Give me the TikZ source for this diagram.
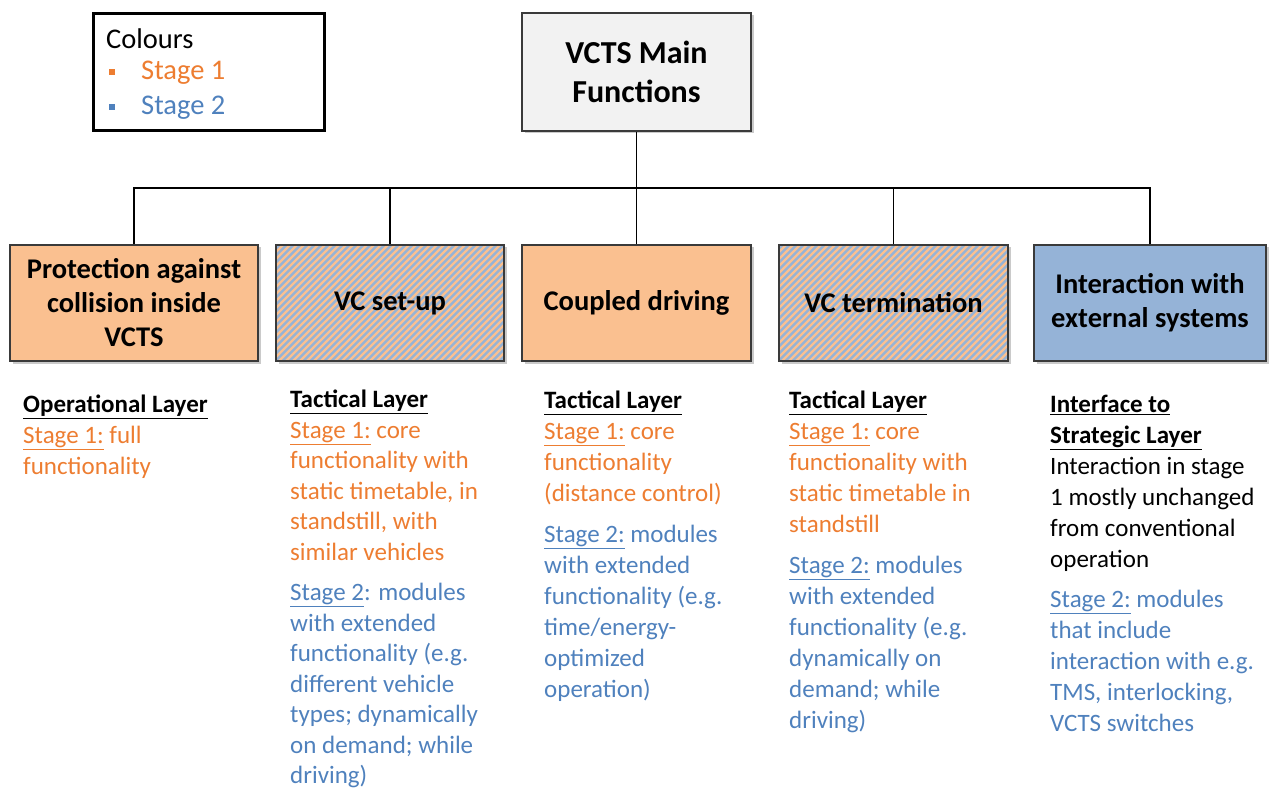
\documentclass[tikz,border=0pt]{standalone}
\usepackage{fontspec}
\setmainfont{Carlito}
\usetikzlibrary{shadows}
\definecolor{orT}{HTML}{ED7D31}
\definecolor{blT}{HTML}{4F81BD}
\definecolor{orF}{HTML}{FAC090}
\definecolor{blF}{HTML}{95B3D7}
\definecolor{grF}{HTML}{F2F2F2}
\definecolor{bdr}{HTML}{3A3A3A}
\tikzset{
  fbox/.style={draw=bdr, line width=1.3pt, minimum height=116pt, align=center,
    font=\fontsize{28.5}{34}\selectfont\bfseries, inner sep=2pt,
    drop shadow={shadow xshift=2.5pt, shadow yshift=-2.5pt, opacity=0.35, fill=black!60}},
  orbox/.style={fbox, fill=orF},
  blbox/.style={fbox, fill=blF},
  hatbox/.style={fbox, fill=blF, path picture={
      \foreach \i in {-130,-123,...,240}
        \draw[orF, line width=2.4pt] ([xshift=\i pt]path picture bounding box.south west) -- ++(130,-130);}},
  desc/.style={anchor=north west, inner sep=0pt, align=left, font=\fontsize{25}{31}\selectfont},
  legtxt/.style={anchor=west, inner sep=0pt, font=\fontsize{28.5}{34}\selectfont},
  conn/.style={draw=black, line width=1.2pt},
}
\begin{document}
\begin{tikzpicture}[x=1pt,y=-1pt]
\useasboundingbox (0,0) rectangle (1276,794);
% legend
\node[draw=black, line width=2.4pt, minimum width=231pt, minimum height=117pt] (leg) at (209,72) {};
\node[legtxt] (legt) at (106,39) {Colours};
\node[fill=orT, minimum size=6pt, inner sep=0pt] (sq1) at (112,72) {};
\node[legtxt, text=orT] (leg1) at (141,73) {Stage 1};
\node[fill=blT, minimum size=6pt, inner sep=0pt] (sq2) at (112,107) {};
\node[legtxt, text=blT] (leg2) at (141,108) {Stage 2};
% main
\node[fbox, fill=grF, minimum width=229pt, minimum height=118pt, font=\fontsize{32}{39.5}\selectfont\bfseries] (main) at (636.5,72) {VCTS Main\\Functions};
% boxes
\node[orbox, minimum width=248pt] (b1) at (134,303) {Protection against\\collision inside\\VCTS};
\node[hatbox, minimum width=228pt] (b2) at (390,303) {VC set-up};
\node[orbox, minimum width=229pt] (b3) at (636.5,303) {Coupled driving};
\node[hatbox, minimum width=229pt] (b4) at (893.5,303) {VC termination};
\node[blbox, minimum width=232pt] (b5) at (1150,303) {Interaction with\\external systems};
% connectors
\coordinate (j) at (636.5,188);
\draw[conn] (main.south) -- (j);
\draw[conn] (b1.north) |- (j);
\draw[conn] (b2.north) |- (j);
\draw[conn] (b3.north) -- (j);
\draw[conn] (b4.north) |- (j);
\draw[conn] (b5.north) |- (j);
% descriptions
\node[desc] (d1) at (23,395) {\textbf{\underline{Operational Layer}}\\
  \textcolor{orT}{\underline{Stage 1:} full}\\
  \textcolor{orT}{functionality}};
\node[desc, font=\fontsize{25}{30.5}\selectfont] (d2) at (290,390) {\textbf{\underline{Tactical Layer}}\\
  \textcolor{orT}{\underline{Stage 1:} core}\\
  \textcolor{orT}{functionality with}\\
  \textcolor{orT}{static timetable, in}\\
  \textcolor{orT}{standstill, with}\\
  \textcolor{orT}{similar vehicles}\\[10pt]
  \textcolor{blT}{\underline{Stage 2}: modules}\\
  \textcolor{blT}{with extended}\\
  \textcolor{blT}{functionality (e.g.}\\
  \textcolor{blT}{different vehicle}\\
  \textcolor{blT}{types; dynamically}\\
  \textcolor{blT}{on demand; while}\\
  \textcolor{blT}{driving)}};
\node[desc] (d3) at (544,391) {\textbf{\underline{Tactical Layer}}\\
  \textcolor{orT}{\underline{Stage 1:} core}\\
  \textcolor{orT}{functionality}\\
  \textcolor{orT}{(distance control)}\\[10pt]
  \textcolor{blT}{\underline{Stage 2:} modules}\\
  \textcolor{blT}{with extended}\\
  \textcolor{blT}{functionality (e.g.}\\
  \textcolor{blT}{time/energy-}\\
  \textcolor{blT}{optimized}\\
  \textcolor{blT}{operation)}};
\node[desc] (d4) at (789,391) {\textbf{\underline{Tactical Layer}}\\
  \textcolor{orT}{\underline{Stage 1:} core}\\
  \textcolor{orT}{functionality with}\\
  \textcolor{orT}{static timetable in}\\
  \textcolor{orT}{standstill}\\[10pt]
  \textcolor{blT}{\underline{Stage 2:} modules}\\
  \textcolor{blT}{with extended}\\
  \textcolor{blT}{functionality (e.g.}\\
  \textcolor{blT}{dynamically on}\\
  \textcolor{blT}{demand; while}\\
  \textcolor{blT}{driving)}};
\node[desc] (d5) at (1050,395) {\textbf{\underline{Interface to}}\\
  \textbf{\underline{Strategic Layer}}\\
  Interaction in stage\\
  1 mostly unchanged\\
  from conventional\\
  operation\\[9pt]
  \textcolor{blT}{\underline{Stage 2:} modules}\\
  \textcolor{blT}{that include}\\
  \textcolor{blT}{interaction with e.g.}\\
  \textcolor{blT}{TMS, interlocking,}\\
  \textcolor{blT}{VCTS switches}};
\end{tikzpicture}
\end{document}
